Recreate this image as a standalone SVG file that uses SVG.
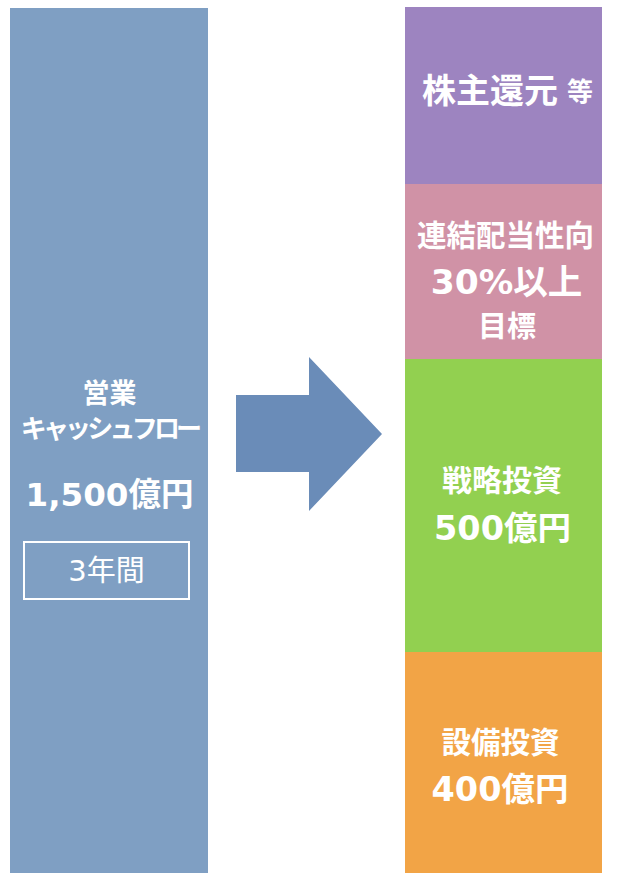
<svg xmlns="http://www.w3.org/2000/svg" width="636" height="873" viewBox="0 0 636 873">
<style>
.t{fill:#fff;font-family:"Noto Sans CJK JP",sans-serif;font-weight:bold;text-anchor:middle}
.n{fill:#fff;font-family:"DejaVu Sans","Noto Sans CJK JP",sans-serif;font-weight:bold;text-anchor:middle}
</style>
<rect width="636" height="873" fill="#fff"/>
<g id="source">
<rect x="10" y="8" width="198" height="865" fill="#7F9FC3"/>
<text class="t" x="109.5" y="403" font-size="27">営業</text>
<text class="t" x="109.5" y="438" font-size="26" letter-spacing="-3.8">キャッシュフロー</text>
<text class="n" x="109.5" y="506" font-size="32.5">1,500億円</text>
<rect x="24" y="542" width="165" height="57" fill="none" stroke="#fff" stroke-width="2"/>
<text x="106.5" y="581" font-size="29" fill="#fff" text-anchor="middle" font-family="DejaVu Sans,'Noto Sans CJK JP',sans-serif">3年間</text>
</g>
<g id="connectors">
<polygon points="236,395 309,395 309,357 382,434 309,511 309,472 236,472" fill="#6A8CB8"/>
</g>
<g id="returns">
<rect x="405" y="7" width="197" height="177" fill="#9D84C0"/>
<text x="422" y="103" font-size="34" fill="#fff" font-weight="bold" font-family="'Noto Sans CJK JP',sans-serif">株主還元</text>
<text x="567" y="101" font-size="26" fill="#fff" font-weight="bold" font-family="'Noto Sans CJK JP',sans-serif">等</text>
</g>
<g id="dividend">
<rect x="405" y="184" width="197" height="175" fill="#D092A6"/>
<text class="t" x="505.5" y="246" font-size="29.5">連結配当性向</text>
<text class="n" x="506.5" y="294" font-size="34.5">30%以上</text>
<text class="t" x="507" y="337" font-size="29">目標</text>
</g>
<g id="strategic">
<rect x="405" y="359" width="197" height="293" fill="#92D050"/>
<text class="t" x="502" y="491" font-size="30">戦略投資</text>
<text class="n" x="502.5" y="540" font-size="33.5">500億円</text>
</g>
<g id="capex">
<rect x="405" y="652" width="197" height="221" fill="#F2A446"/>
<text class="t" x="500.5" y="753" font-size="29.5">設備投資</text>
<text class="n" x="500" y="801" font-size="33.5">400億円</text>
</g>
</svg>
